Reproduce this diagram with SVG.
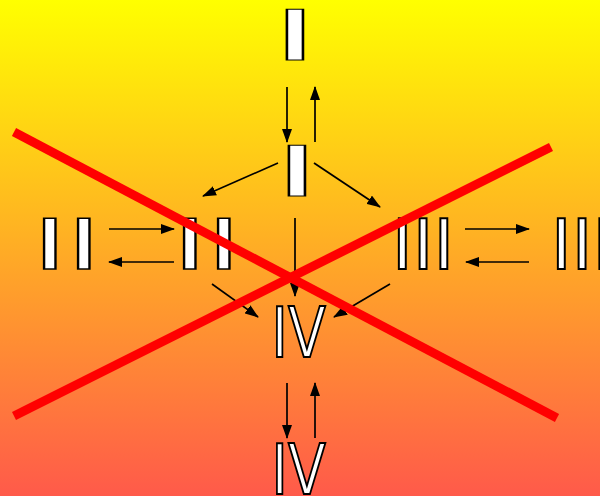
<svg xmlns="http://www.w3.org/2000/svg" width="600" height="496" viewBox="0 0 600 496">
<defs>
<linearGradient id="bg" x1="0" y1="0" x2="0" y2="1">
<stop offset="0" stop-color="#FFFF00"/>
<stop offset="1" stop-color="#FF5A4A"/>
</linearGradient>
<marker id="ah" markerUnits="userSpaceOnUse" markerWidth="14" markerHeight="10" refX="13" refY="5" orient="auto">
<path d="M0,0 L14,5 L0,10 z" fill="#000"/>
</marker>
</defs>
<style>
.n{font-family:"DejaVu Sans",sans-serif;font-size:70px;fill:#fff;stroke:#000;stroke-width:2px;stroke-linejoin:miter;vector-effect:non-scaling-stroke}
.c line{stroke:#000;stroke-width:1.7;marker-end:url(#ah)}
.x{stroke:#FF0000;stroke-width:9}
</style>
<rect width="600" height="496" fill="url(#bg)"/>
<g id="top-I"><text class="n" transform="translate(271.1,60) scale(2.32,1)">I</text></g>
<g id="center-I"><text class="n" transform="translate(273.1,196) scale(2.32,1)">I</text></g>
<g id="left-II"><text class="n" transform="translate(32.7,269) scale(1.65,1)">II</text></g>
<g id="center-II"><text class="n" transform="translate(172.7,269) scale(1.65,1)">II</text></g>
<g id="center-III"><text class="n" transform="translate(392.1,269)">III</text></g>
<g id="right-III"><text class="n" transform="translate(551.1,269)">III</text></g>
<g id="center-IV"><text class="n" transform="translate(271.6,357) scale(0.79,1)">IV</text></g>
<g id="bottom-IV"><text class="n" transform="translate(271.6,494) scale(0.79,1)">IV</text></g>
<g class="c" id="connectors">
<line x1="287" y1="87" x2="287" y2="142"/>
<line x1="315" y1="142" x2="315" y2="87"/>
<line x1="278" y1="163" x2="203" y2="196"/>
<line x1="314" y1="163" x2="380" y2="207"/>
<line x1="295" y1="218" x2="295" y2="296"/>
<line x1="109" y1="229" x2="174" y2="229"/>
<line x1="174" y1="262" x2="109" y2="262"/>
<line x1="465" y1="229" x2="529" y2="229"/>
<line x1="529" y1="262" x2="466" y2="262"/>
<line x1="212" y1="284" x2="258" y2="317"/>
<line x1="390" y1="284" x2="334" y2="317"/>
<line x1="287" y1="383" x2="287" y2="438"/>
<line x1="315" y1="438" x2="315" y2="383"/>
</g>
<g id="cross">
<line class="x" x1="14" y1="132" x2="557" y2="418"/>
<line class="x" x1="14" y1="416" x2="551" y2="147"/>
</g>
</svg>
